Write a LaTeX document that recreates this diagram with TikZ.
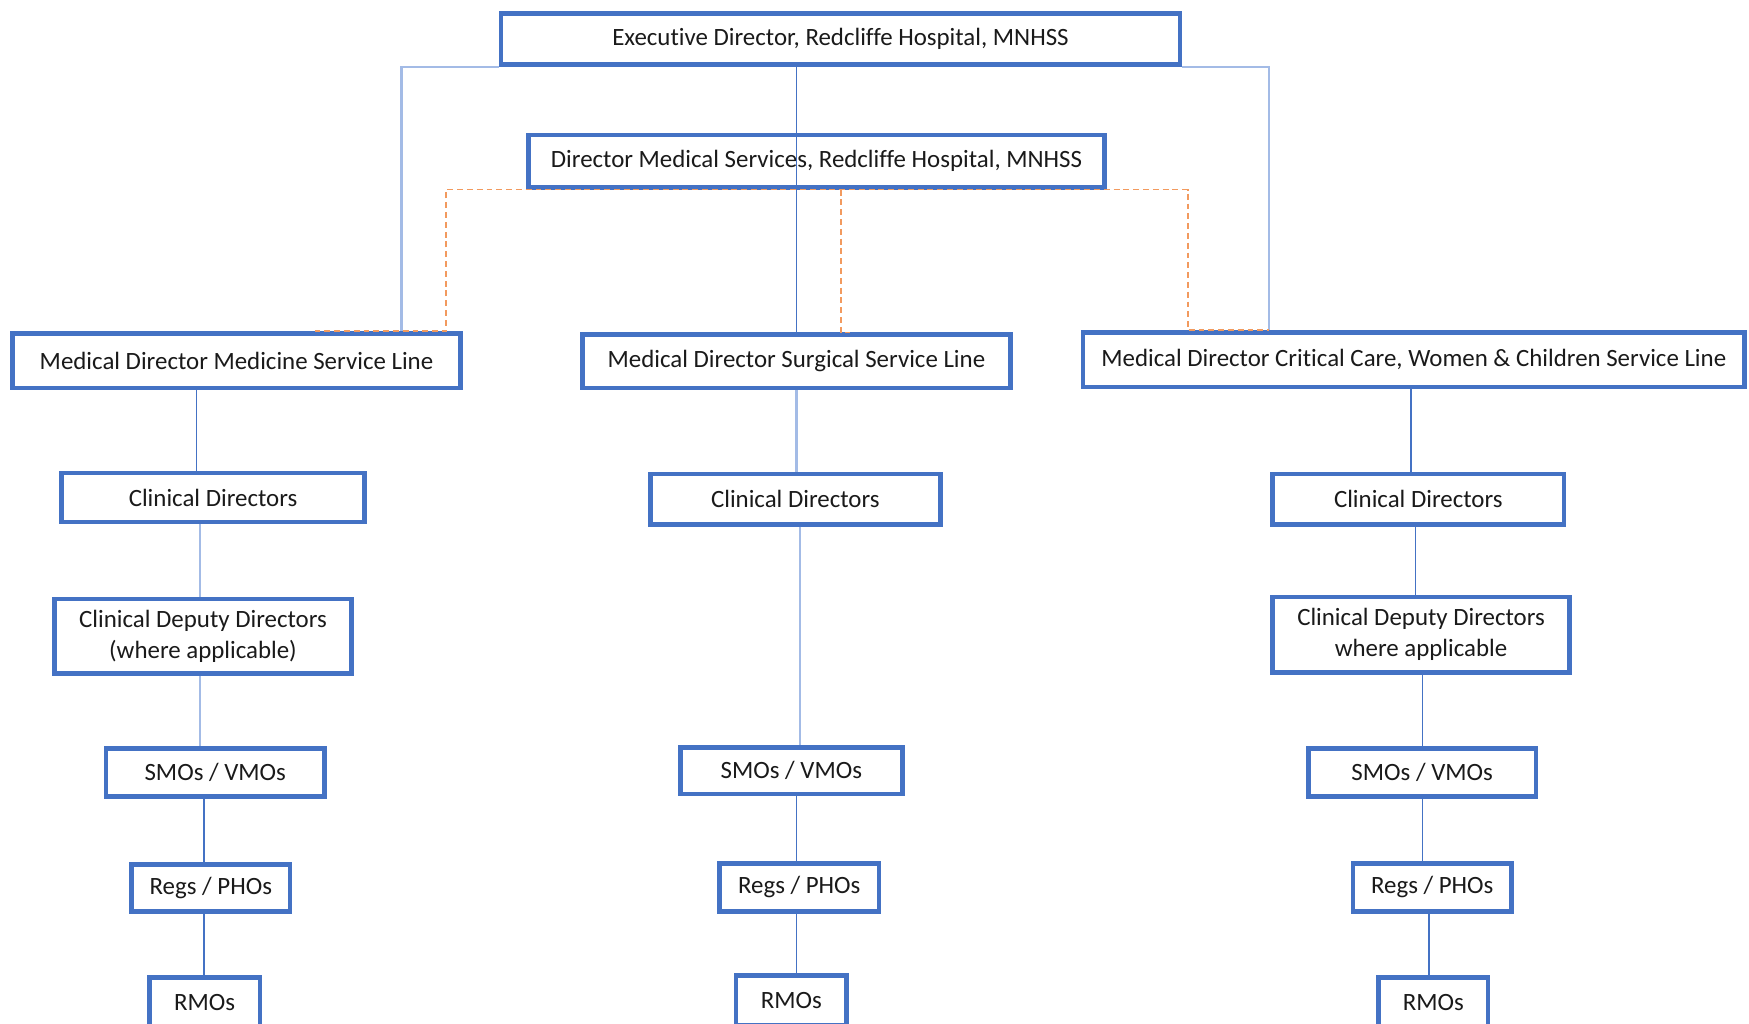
\documentclass[tikz,border=0pt]{standalone}
\usepackage{fontspec}
\setmainfont{Carlito}[Ligatures=NoCommon]
\usepackage{tikz}
\usetikzlibrary{positioning}
\definecolor{boxBlue}{HTML}{4472C4}
\definecolor{lineBlue}{HTML}{4472C4}
\definecolor{softBlue}{HTML}{A3BBE6}
\definecolor{dashOrange}{HTML}{F29A5E}
\definecolor{textGrey}{HTML}{1A1A1A}
\tikzset{
  role/.style 2 args={draw=boxBlue, line width=2.3pt, fill=white, text=textGrey,
    align=center, inner sep=0pt, minimum width=#1*0.02cm, minimum height=#2*0.02cm,
    font=\fontsize{12.7}{16}\selectfont},
  link/.style={draw=lineBlue, line width=0.7pt},
  softlink/.style={draw=softBlue, line width=1.1pt},
  dotlink/.style={draw=dashOrange, line width=0.8pt, dash pattern=on 3pt off 2pt}
}

\begin{document}
\begin{tikzpicture}[x=0.02cm, y=-0.02cm]
\useasboundingbox (0,0) rectangle (1568,918);
\clip (0,0) rectangle (1568,918);

% top of the tree
\node[role={609}{46}] (exec) at (753.5,35) {Executive Director, Redcliffe Hospital, MNHSS};
\node[role={516}{47}] (dms) at (732,144.5) {Director Medical Services, Redcliffe Hospital, MNHSS};

% service lines
\node[role={402}{49}] (md1) at (212,323.5) {Medical Director Medicine Service Line};
\node[role={384}{48}] (md2) at (714,324) {Medical Director Surgical Service Line};
\node[role={593}{49}] (md3) at (1267.5,322.5) {Medical Director Critical Care, Women \& Children Service Line};

% medicine
\node[role={272}{44}] (cd1) at (191,446) {Clinical Directors};
\node[role={266}{67}] (cdd1) at (182,570.5) {Clinical Deputy Directors\\(where applicable)};
\node[role={196}{43}] (smo1) at (193,692.5) {SMOs / VMOs};
\node[role={142}{42}] (reg1) at (189,796) {Regs / PHOs};
\node[role={99}{45}] (rmo1) at (183.5,899) {RMOs};

% surgical
\node[role={260}{45}] (cd2) at (713,447.5) {Clinical Directors};
\node[role={199}{42}] (smo2) at (709.5,691) {SMOs / VMOs};
\node[role={143}{43}] (reg2) at (716.5,795.5) {Regs / PHOs};
\node[role={99}{45}] (rmo2) at (709.5,897) {RMOs};

% critical care, women & children
\node[role={261}{45}] (cd3) at (1271.5,447.5) {Clinical Directors};
\node[role={266}{68}] (cdd3) at (1274,569) {Clinical Deputy Directors\\where applicable};
\node[role={204}{43}] (smo3) at (1275,692.5) {SMOs / VMOs};
\node[role={142}{43}] (reg3) at (1284,795.5) {Regs / PHOs};
\node[role={98}{45}] (rmo3) at (1285,899) {RMOs};

% reporting lines from the executive
\draw[softlink] (exec.south west) -| (360,0 |- md1.north);
\draw[softlink] (exec.south east) -| (1138,0 |- md3.north);
\draw[link] (714,0 |- exec.south) -- (714,0 |- md2.north);

% professional lines from DMS
\draw[dotlink] (282,0 |- md1.north) -- (400,0 |- md1.north) -- (400,0 |- dms.south) -- (1065,0 |- dms.south) -- (1065,0 |- md3.north) -- (1138,0 |- md3.north);
\draw[dotlink] (754,0 |- dms.south) -- (754,0 |- md2.north) -- (762,0 |- md2.north);

% medicine column
\draw[link] (176,0 |- md1.south) -- (176,0 |- cd1.north);
\draw[softlink] (179,0 |- cd1.south) -- (179,0 |- cdd1.north);
\draw[softlink] (179,0 |- cdd1.south) -- (179,0 |- smo1.north);
\draw[link] (183,0 |- smo1.south) -- (183,0 |- reg1.north);
\draw[link] (183,0 |- reg1.south) -- (183,0 |- rmo1.north);

% surgical column
\draw[softlink] (714,0 |- md2.south) -- (714,0 |- cd2.north);
\draw[softlink] (717,0 |- cd2.south) -- (717,0 |- smo2.north);
\draw[link] (714,0 |- smo2.south) -- (714,0 |- reg2.north);
\draw[link] (714,0 |- reg2.south) -- (714,0 |- rmo2.north);

% critical care column
\draw[link] (1265,0 |- md3.south) -- (1265,0 |- cd3.north);
\draw[link] (1269,0 |- cd3.south) -- (1269,0 |- cdd3.north);
\draw[link] (1275,0 |- cdd3.south) -- (1275,0 |- smo3.north);
\draw[link] (1275,0 |- smo3.south) -- (1275,0 |- reg3.north);
\draw[link] (1281,0 |- reg3.south) -- (1281,0 |- rmo3.north);
\end{tikzpicture}
\end{document}
